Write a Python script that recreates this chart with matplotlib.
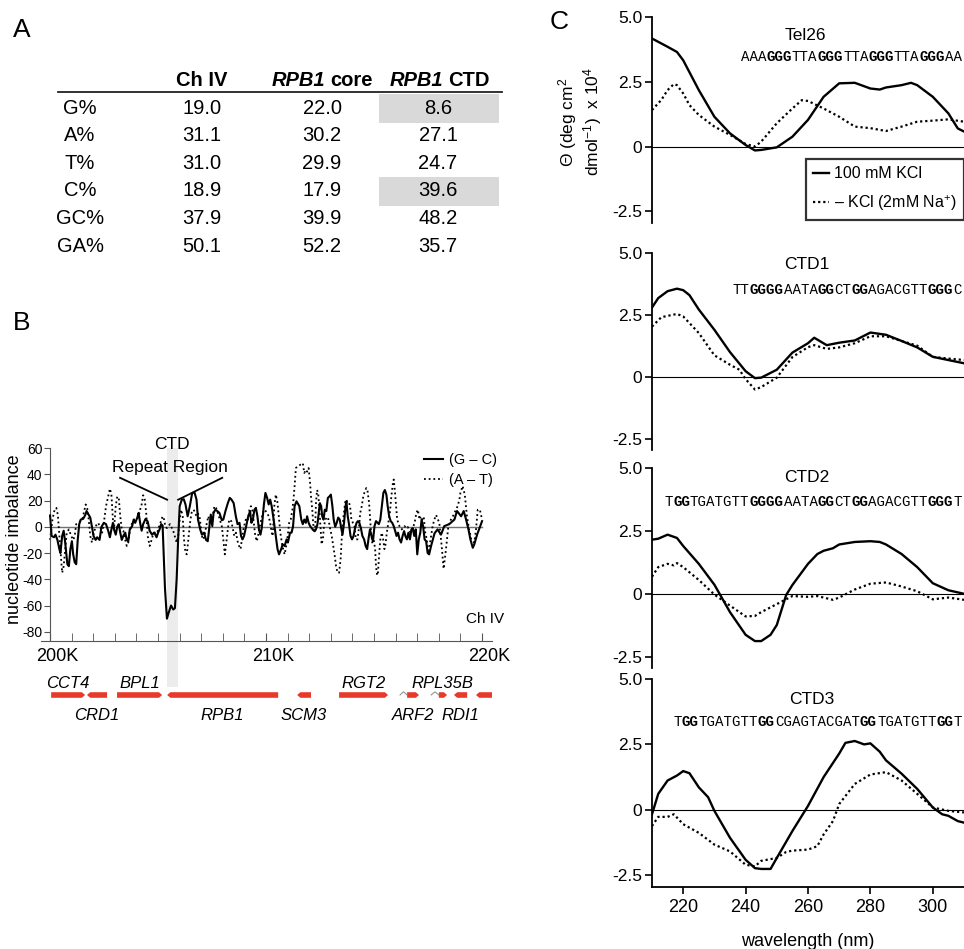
import re

import matplotlib
matplotlib.use("Agg")
import matplotlib.pyplot as plt
from matplotlib.lines import Line2D
from matplotlib.patches import Rectangle
from matplotlib.ticker import MultipleLocator
from matplotlib.transforms import ScaledTranslation

plt.rcParams['font.family'] = ['Liberation Sans', 'DejaVu Sans']
plt.rcParams['axes.unicode_minus'] = False
plt.rcParams['mathtext.fontset'] = 'custom'
plt.rcParams['mathtext.rm'] = 'Liberation Sans'
plt.rcParams['mathtext.it'] = 'Liberation Sans:italic'

# ---------------- panel A: base composition table ----------------
row_labels = ["G%", "A%", "T%", "C%", "GC%", "GA%"]
ch4_pct = [19.0, 31.1, 31.0, 18.9, 37.9, 50.1]
core_pct = [22.0, 30.2, 29.9, 17.9, 39.9, 52.2]
ctd_pct = [8.6, 27.1, 24.7, 39.6, 48.2, 35.7]
highlight_rows = ["G%", "C%"]

# ---------------- panel B: nucleotide imbalance along Ch IV (kb) ----------------
gc_kb = [200.00, 200.07, 200.18, 200.25, 200.34, 200.43, 200.48, 200.56, 200.63, 200.70,
         200.80, 200.87, 200.94, 201.01, 201.07, 201.14, 201.21, 201.28, 201.35, 201.42,
         201.53, 201.63, 201.69, 201.79, 201.86, 201.94, 202.01, 202.11, 202.18, 202.29,
         202.38, 202.49, 202.59, 202.69, 202.77, 202.84, 202.91, 202.96, 203.04, 203.11,
         203.18, 203.25, 203.32, 203.39, 203.48, 203.55, 203.62, 203.69, 203.80, 203.87,
         203.94, 204.04, 204.10, 204.17, 204.24, 204.31, 204.42, 204.52, 204.61, 204.72,
         204.83, 204.93, 205.00, 205.07, 205.14, 205.21, 205.25, 205.32, 205.41, 205.48,
         205.60, 205.70, 205.78, 205.86, 205.93, 206.00, 206.10, 206.19, 206.27, 206.37,
         206.47, 206.58, 206.69, 206.78, 206.85, 206.95, 207.03, 207.13, 207.22, 207.30,
         207.37, 207.44, 207.51, 207.57, 207.65, 207.74, 207.84, 207.95, 208.02, 208.12,
         208.23, 208.32, 208.40, 208.50, 208.60, 208.68, 208.77, 208.84, 208.91, 208.98,
         209.08, 209.16, 209.26, 209.32, 209.39, 209.46, 209.53, 209.60, 209.67, 209.74,
         209.80, 209.90, 209.97, 210.05, 210.12, 210.19, 210.26, 210.35, 210.45, 210.53,
         210.60, 210.70, 210.77, 210.86, 210.95, 211.01, 211.11, 211.18, 211.25, 211.32,
         211.41, 211.54, 211.63, 211.70, 211.77, 211.84, 211.90, 211.97, 212.04, 212.11,
         212.18, 212.25, 212.31, 212.38, 212.45, 212.49, 212.55, 212.60, 212.66, 212.72,
         212.79, 212.86, 212.93, 213.00, 213.07, 213.13, 213.20, 213.27, 213.34, 213.41,
         213.48, 213.54, 213.61, 213.68, 213.72, 213.78, 213.84, 213.91, 213.98, 214.05,
         214.12, 214.19, 214.25, 214.32, 214.39, 214.46, 214.54, 214.61, 214.68, 214.75,
         214.81, 214.88, 214.95, 215.02, 215.09, 215.16, 215.22, 215.29, 215.36, 215.43,
         215.50, 215.57, 215.63, 215.70, 215.77, 215.84, 215.91, 215.98, 216.04, 216.11,
         216.18, 216.25, 216.32, 216.39, 216.45, 216.52, 216.59, 216.66, 216.73, 216.79,
         216.86, 216.93, 217.00, 217.07, 217.14, 217.20, 217.27, 217.34, 217.41, 217.48,
         217.55, 217.64, 217.80, 217.94, 218.10, 218.25, 218.48, 218.72, 218.84, 219.03,
         219.15, 219.26, 219.37, 219.46, 219.57, 219.64, 219.77, 219.88, 220.00]
gc_val = [8.6, -7, -8, -6, -10, -17, -20, -7, -3, -12,
          -28.5, -30, -17, -11, -21, -27, -28.5, -10, 2, 5.5,
          6, 9, 12, 9, 7, 0, -7, -10, -8, -10,
          0, 3, 2, -3, -8, -2, 3, -2, -6, 0,
          2, -4.5, -10, -7, -4.5, -10, -11, -2, 0.5, 5.5,
          3, 7, 10.6, 3, -3, 2, 6, 4, -3, -6,
          -4.5, -8, -4.5, -2, 2, 1, -17, -47, -70, -66,
          -60, -63, -62, -40, -9.6, 15.7, 20.7, 21, 17, 8,
          15.7, 25.8, 26, 20.7, 5.5, -2, -6, -4.5, -10, -11,
          -1, 9.3, 0.5, 10.6, 13, 12, 10.6, 5, 5.5, 12,
          18, 22, 20.7, 18, 8, 2, 3, -7, -9.6, -7,
          0.5, 7, 12, 3, 5.5, 13, 14.4, 8, -2, -6,
          -1, 17, 25.8, 22, 17, 20.7, 15.7, 5.5, -7, -17,
          -21, -17, -13.4, -14.6, -9.6, -12, -4.5, -4.5, 0.5, 15.7,
          19.4, 15.7, 5.5, 2, 5.5, 3, 8, 3, 0.5, -1,
          -2.5, -3.3, -2, 2, 12, 18, 15.7, 8, 5.5, 13,
          12, 22, 23, 24.5, 15.7, 5.5, 0, 3, 7, 5.5,
          -1, -6, 3, 15.7, 19.4, 8, 2, -7, -9.6, -7,
          -1, 3, 4.3, 3, -1, -7, -9.6, -14.6, -17, -8.3,
          -2, -7, -11, 0.5, 4.3, 3, 2, 5.5, 15.7, 25.8,
          28, 24.5, 15.7, 8, 4.3, 3, 0.5, -3.3, -7, -4.5,
          -9.6, -12, -7, -3.3, -7, -9.6, -4.5, -9.6, -2, -1,
          -7, -2, -21, -9.6, -4.5, 5.5, 0.5, -9.6, -11, -20,
          -21, -14.6, -5, -2, -6, 0.5, 2, 5.5, 12, 8,
          12, 5.5, -2, -9.6, -16, -13.4, -6, -1, 4.3]

at_kb = [200.00, 200.11, 200.21, 200.29, 200.36, 200.43, 200.50, 200.56, 200.63, 200.70,
         200.77, 200.87, 200.98, 201.07, 201.14, 201.21, 201.28, 201.39, 201.49, 201.56,
         201.65, 201.72, 201.79, 201.86, 201.94, 202.01, 202.11, 202.22, 202.31, 202.41,
         202.49, 202.59, 202.69, 202.77, 202.84, 202.91, 202.96, 203.04, 203.11, 203.18,
         203.25, 203.32, 203.39, 203.48, 203.55, 203.62, 203.69, 203.80, 203.90, 204.01,
         204.10, 204.17, 204.24, 204.31, 204.38, 204.45, 204.52, 204.61, 204.70, 204.79,
         204.86, 204.93, 205.00, 205.11, 205.21, 205.28, 205.34, 205.41, 205.55, 205.70,
         205.86, 205.93, 206.00, 206.07, 206.14, 206.20, 206.27, 206.33, 206.40, 206.48,
         206.55, 206.65, 206.71, 206.78, 206.85, 206.92, 206.99, 207.06, 207.13, 207.20,
         207.26, 207.33, 207.40, 207.47, 207.54, 207.61, 207.68, 207.74, 207.81, 207.88,
         207.95, 208.02, 208.09, 208.16, 208.23, 208.29, 208.39, 208.47, 208.53, 208.61,
         208.68, 208.75, 208.82, 208.88, 208.95, 209.02, 209.09, 209.16, 209.23, 209.30,
         209.37, 209.43, 209.50, 209.57, 209.64, 209.71, 209.80, 209.90, 209.98, 210.05,
         210.12, 210.19, 210.26, 210.31, 210.38, 210.45, 210.52, 210.59, 210.66, 210.73,
         210.79, 210.86, 210.93, 211.00, 211.07, 211.14, 211.22, 211.27, 211.33, 211.38,
         211.45, 211.56, 211.70, 211.77, 211.84, 211.90, 211.97, 212.04, 212.08, 212.14,
         212.18, 212.22, 212.27, 212.31, 212.36, 212.41, 212.46, 212.52, 212.57, 212.63,
         212.68, 212.75, 212.82, 212.89, 212.96, 213.04, 213.11, 213.17, 213.24, 213.31,
         213.38, 213.45, 213.50, 213.57, 213.64, 213.68, 213.75, 213.82, 213.89, 213.95,
         214.02, 214.09, 214.16, 214.23, 214.30, 214.36, 214.43, 214.50, 214.57, 214.64,
         214.70, 214.77, 214.84, 214.91, 214.98, 215.05, 215.09, 215.14, 215.18, 215.22,
         215.29, 215.36, 215.42, 215.48, 215.52, 215.59, 215.66, 215.73, 215.80, 215.87,
         215.91, 215.96, 216.02, 216.07, 216.14, 216.21, 216.28, 216.34, 216.41, 216.48,
         216.55, 216.62, 216.69, 216.75, 216.82, 216.89, 216.96, 217.03, 217.10, 217.16,
         217.23, 217.30, 217.37, 217.44, 217.51, 217.57, 217.71, 217.79, 217.87, 218.02,
         218.13, 218.22, 218.33, 218.44, 218.56, 218.68, 218.79, 218.87, 218.95, 219.00,
         219.10, 219.20, 219.30, 219.40, 219.50, 219.64, 219.72, 219.80, 219.90, 220.00]
at_val = [-10, 5.5, 13, 14.4, 9, -7, -22, -35, -30, -17,
          -4.5, -2, -7, -10, -7, 2, 3, 4, 5.5, 10.6,
          17, 14, 5.5, -7, -12, -6, 0.5, 3, 0.5, -4.5,
          3, 15.7, 23, 29, 24.5, 5.5, -2, 15.7, 23, 22,
          8, -2, -3, -10, -14.6, -12, -3, 3, 5.5, 5.5,
          8, 13, 17, 24, 21, 10.6, -7, -14.6, -10, -4.5,
          -4.5, -7, -2, 3, 8, 5.5, 0, -1, 2, -3,
          -12, -7, 5.5, 13, 8, -9.6, -20, -21, -9.6, 3,
          10.6, 13, 10.6, 8, 10, 8, -2, -9.6, -8.3, -2,
          3, 8, 2, 5.5, 9.3, 15.7, 14.4, 12, 8, 4.3,
          0.5, -9.6, -21, -12, -2, 5.5, 4.3, -2, -7, -4.5,
          -11, -14.6, -17, -9.6, -2, 3, 7, 5.5, 13, 15.7,
          12, 3, -7, -11, -6, 0.5, 7, 13, 12, 10.6,
          8, 3, -4.5, -7, 15.7, 24.5, 19.4, 8, -4.5, -12,
          -17, -21, -14.6, -7, 3, 5.5, 13, 20.7, 33, 44.7,
          46, 47, 48.5, 41, 43.4, 42, 44.7, 33, 23, 13,
          3, -4.5, -2, 18, 28, 25.8, 15.7, 0.5, -13.4, -9.6,
          0.5, 5.5, 7.5, 5.5, -1, -7, -14.6, -21, -30, -35,
          -35, -25, -9.6, 5.5, 15.7, 20.7, 19.4, 19.4, 15.7, 5.5,
          3, 0.5, -9.6, -9.6, -1, 10.6, 15.7, 23, 27, 29.5,
          27, 18, 0.5, -12, -9.6, -17, -30, -37, -35, -25,
          -9.6, -4.5, -9.6, -17, -14.6, -4.5, 3, 10.6, 23, 33,
          36, 28, 15.7, 5.5, 2, -1, -2, -1, 0.5, -1,
          0, -2, -4.5, -2, 0, 4.3, 10.6, 13, 5.5, 8,
          5.5, 7.5, -4.5, -9.6, -20, -14.6, 0.5, 5.5, 9, 3,
          -14.6, -32, -17, 0.5, 5.5, 9, 13, 15.7, 20.7, 26,
          31, 24.5, 8, -2, -9.6, -12, -2, 13, 13, 5.5]

ctd_region = (205.42, 205.90)

# genes under the plot (kb)
gene_names = ["CCT4", "CRD1", "BPL1", "RPB1", "SCM3", "RGT2", "ARF2", "RPL35B", "RDI1", ""]
gene_start = [200.05, 201.71, 203.10, 205.42, 211.44, 213.38, 216.53, 218.00, 218.70, 219.72]
gene_end = [201.62, 202.64, 205.19, 210.56, 212.08, 215.65, 217.08, 218.38, 219.31, 220.46]
gene_strand = [1, -1, 1, -1, -1, 1, 1, 1, -1, -1]
gene_label_side = [1, -1, 1, -1, -1, 1, -1, 1, -1, 0]
intron_start = [216.20, 217.64]
intron_end = [216.53, 218.00]

# ---------------- panel C: CD spectra (x 10^4) ----------------
cd_names = ["Tel26", "CTD1", "CTD2", "CTD3"]
cd_seqs = ["AAA{GGG}TTA{GGG}TTA{GGG}TTA{GGG}AA",
           "TT{GGGG}AATA{GG}CT{GG}AGACGTT{GGG}C",
           "T{GG}TGATGTT{GGGG}AATA{GG}CT{GG}AGACGTT{GGG}T",
           "T{GG}TGATGTT{GG}CGAGTACGAT{GG}TGATGTT{GG}T"]

tel26_wl_k = [210, 215, 218, 220, 225, 230, 235, 240, 243, 245, 250, 255, 260, 265, 270,
              275, 280, 283, 285, 290, 293, 295, 300, 305, 308, 310]
tel26_k = [4.17, 3.85, 3.65, 3.33, 2.18, 1.15, 0.51, 0.06, -0.15, -0.13, -0.03, 0.38, 1.03,
           1.92, 2.44, 2.46, 2.24, 2.2, 2.28, 2.37, 2.46, 2.37, 1.92, 1.28, 0.7, 0.58]
tel26_wl_na = [210, 213, 215, 217, 218, 220, 222, 225, 230, 235, 240, 243, 245, 250, 255,
               258, 260, 265, 270, 275, 280, 285, 290, 295, 300, 305, 310]
tel26_na = [1.41, 1.8, 2.18, 2.41, 2.37, 2.05, 1.6, 1.22, 0.77, 0.45, 0.1, 0.0, 0.19, 0.9,
            1.47, 1.79, 1.76, 1.47, 1.15, 0.77, 0.71, 0.6, 0.77, 0.96, 1.0, 1.05, 0.96]

ctd1_wl_k = [210, 212, 215, 218, 220, 222, 225, 230, 235, 240, 243, 245, 250, 255, 260,
             262, 266, 270, 275, 280, 285, 290, 295, 300, 305, 310]
ctd1_k = [2.8, 3.18, 3.46, 3.56, 3.5, 3.3, 2.72, 1.9, 1.0, 0.23, -0.05, -0.03, 0.29, 0.98,
          1.36, 1.58, 1.28, 1.38, 1.47, 1.79, 1.7, 1.45, 1.19, 0.81, 0.68, 0.55]
ctd1_wl_na = [210, 213, 218, 220, 225, 230, 235, 238, 240, 243, 245, 250, 255, 260, 262,
              266, 270, 275, 280, 285, 290, 295, 300, 305, 310]
ctd1_na = [2.03, 2.41, 2.54, 2.44, 1.77, 0.87, 0.49, 0.29, -0.09, -0.51, -0.41, -0.03, 0.8,
           1.2, 1.28, 1.13, 1.19, 1.36, 1.64, 1.64, 1.45, 1.26, 0.81, 0.74, 0.68]

ctd2_wl_k = [210, 212, 215, 218, 220, 225, 230, 235, 240, 243, 245, 248, 250, 253, 255,
             260, 263, 265, 268, 270, 275, 280, 283, 285, 290, 295, 300, 305, 310]
ctd2_k = [2.15, 2.19, 2.35, 2.22, 1.9, 1.19, 0.36, -0.73, -1.63, -1.88, -1.88, -1.63,
          -1.24, -0.05, 0.35, 1.19, 1.58, 1.71, 1.81, 1.96, 2.06, 2.09, 2.06, 1.96, 1.58,
          1.06, 0.42, 0.14, 0.0]
ctd2_wl_na = [210, 212, 215, 217, 218, 220, 225, 230, 235, 240, 243, 245, 250, 255, 260,
              263, 265, 268, 270, 275, 280, 285, 290, 295, 300, 305, 310]
ctd2_na = [0.68, 1.06, 1.19, 1.13, 1.22, 1.06, 0.55, -0.03, -0.47, -0.9, -0.88, -0.73,
           -0.41, -0.09, -0.12, -0.09, -0.15, -0.24, -0.15, 0.17, 0.4, 0.45, 0.29, 0.1,
           -0.22, -0.15, -0.24]

ctd3_wl_k = [210, 212, 215, 218, 220, 222, 225, 228, 230, 235, 240, 243, 245, 248, 250,
             255, 260, 265, 270, 272, 275, 278, 280, 283, 285, 290, 295, 300, 303, 305,
             308, 310]
ctd3_k = [-0.17, 0.61, 1.12, 1.31, 1.48, 1.4, 0.86, 0.48, -0.04, -1.07, -1.91, -2.23,
          -2.26, -2.26, -1.84, -0.81, 0.15, 1.25, 2.15, 2.56, 2.63, 2.5, 2.54, 2.22, 1.89,
          1.38, 0.8, 0.09, -0.17, -0.23, -0.43, -0.49]
ctd3_wl_na = [210, 212, 215, 217, 220, 225, 230, 235, 240, 243, 245, 250, 253, 255, 260,
              263, 265, 268, 270, 275, 280, 285, 290, 295, 300, 305, 310]
ctd3_na = [-0.62, -0.27, -0.27, -0.17, -0.55, -0.88, -1.33, -1.59, -2.1, -2.16, -1.95,
           -1.84, -1.61, -1.56, -1.52, -1.39, -0.94, -0.43, 0.22, 0.99, 1.35, 1.44, 1.12,
           0.61, 0.09, -0.04, -0.1]

cd_kcl = [(tel26_wl_k, tel26_k), (ctd1_wl_k, ctd1_k), (ctd2_wl_k, ctd2_k), (ctd3_wl_k, ctd3_k)]
cd_na = [(tel26_wl_na, tel26_na), (ctd1_wl_na, ctd1_na), (ctd2_wl_na, ctd2_na),
         (ctd3_wl_na, ctd3_na)]

# ---------------- figure ----------------
W, H = 964, 949
fig = plt.figure(figsize=(W / 100, H / 100), dpi=100)


def fx(px):
    return px / W


def fy(py):
    return 1 - py / H


def ftext(px, py, s, **kw):
    fig.text(fx(px), fy(py), s, **kw)


# panel letters
ftext(22, 30, "A", fontsize=19, ha="center", va="center")
ftext(22, 323, "B", fontsize=19, ha="center", va="center")
ftext(559, 22, "C", fontsize=19, ha="center", va="center")

# ---- A ----
tfs = 14.5
col_x = [80, 202, 322, 438]
row_y0, row_dy = 108, 27.6
ftext(col_x[1], 80, "Ch IV", fontsize=tfs, weight="bold", ha="center", va="center")
ftext(325, 80, "RPB1", fontsize=tfs, weight="bold", style="italic", ha="right", va="center")
ftext(330.5, 80, "core", fontsize=tfs, weight="bold", ha="left", va="center")
ftext(443, 80, "RPB1", fontsize=tfs, weight="bold", style="italic", ha="right", va="center")
ftext(448.5, 80, "CTD", fontsize=tfs, weight="bold", ha="left", va="center")
fig.add_artist(Line2D([fx(58), fx(502)], [fy(92), fy(92)], color="#222222", lw=1.3))
for i, lab in enumerate(row_labels):
    y = row_y0 + i * row_dy
    if lab in highlight_rows:
        fig.add_artist(Rectangle((fx(379), fy(y + 15)), fx(499) - fx(379), 29 / H,
                                 facecolor="#d9d9d9", edgecolor="none", zorder=0))
    ftext(col_x[0], y, lab, fontsize=tfs, ha="center", va="center")
    ftext(col_x[1], y, f"{ch4_pct[i]:.1f}", fontsize=tfs, ha="center", va="center")
    ftext(col_x[2], y, f"{core_pct[i]:.1f}", fontsize=tfs, ha="center", va="center")
    ftext(col_x[3], y, f"{ctd_pct[i]:.1f}", fontsize=tfs, ha="center", va="center")

# ---- B ----
axb = fig.add_axes([fx(41), fy(641), fx(492) - fx(41), (641 - 448) / H])
axb.set_xlim(199.58, 220.46)
axb.set_ylim(-87, 60)
axb.axvspan(*ctd_region, ymin=-0.24, ymax=1.0, color="#ececec", lw=0, zorder=0,
            clip_on=False)
axb.axhline(0, xmin=(200 - 199.58) / 20.88, xmax=(220 - 199.58) / 20.88, color="#707070",
            lw=1.0, zorder=1)
axb.plot(at_kb, at_val, color="black", lw=1.3, ls=(0, (1, 1.6)), label="(A – T)", zorder=2)
axb.plot(gc_kb, gc_val, color="black", lw=1.5, label="(G – C)", zorder=3)
axb.spines["top"].set_visible(False)
axb.spines["right"].set_visible(False)
axb.spines["left"].set_position(("data", 200))
axb.spines["left"].set_color("#555555")
axb.spines["bottom"].set_color("#555555")
axb.set_yticks(range(-80, 61, 20))
axb.set_xticks([200, 210, 220])
axb.set_xticklabels(["200K", "210K", "220K"])
axb.xaxis.set_minor_locator(MultipleLocator(1))
axb.tick_params(axis="x", which="both", direction="in", length=6, color="#555555",
                labelsize=13, pad=5)
axb.tick_params(axis="y", length=4, color="#555555", labelsize=10, pad=1.5)
shift = ScaledTranslation(0.07, 0, fig.dpi_scale_trans)
for lab in axb.get_xticklabels():
    lab.set_transform(lab.get_transform() + shift)
axb.set_ylabel("nucleotide imbalance", fontsize=13)
axb.yaxis.set_label_coords(-0.041, 0.53)
handles, labels = axb.get_legend_handles_labels()
axb.legend(handles[::-1], labels[::-1], loc="upper right", bbox_to_anchor=(1.04, 1.04),
           frameon=False, fontsize=10.5, handlelength=1.3, handletextpad=0.4,
           labelspacing=0.4)
axb.text(221.0, -70, "Ch IV", fontsize=11, ha="right", va="center", clip_on=False)
axb.text(205.65, 63, "CTD", fontsize=12.5, ha="center", va="center", clip_on=False)
axb.text(205.55, 45, "Repeat Region", fontsize=12.5, ha="center", va="center", clip_on=False)
axb.plot([203.24, ctd_region[0]], [37.3, 20.6], color="black", lw=1.3, clip_on=False)
axb.plot([ctd_region[1] + 0.03, 207.97], [20.6, 37.3], color="black", lw=1.3, clip_on=False)

# gene track
axg = fig.add_axes([fx(41), fy(735), fx(492) - fx(41), 80 / H])
axg.set_xlim(199.58, 220.46)
axg.set_ylim(0, 1)
axg.axis("off")
yb, hh, hl = 0.5, 0.035, 0.15
for name, s, e, st, side in zip(gene_names, gene_start, gene_end, gene_strand,
                                gene_label_side):
    if st > 0:
        xs = [s, e - hl, e, e - hl, s]
    else:
        xs = [e, s + hl, s, s + hl, e]
    ys = [yb - hh, yb - hh, yb, yb + hh, yb + hh]
    axg.fill(xs, ys, color="#e8392b", lw=0)
    if side:
        axg.text((s + e) / 2, yb + (0.14 if side > 0 else -0.25), name, fontsize=12,
                 style="italic", ha="center", va="center")
for s, e in zip(intron_start, intron_end):
    axg.plot([s, (s + e) / 2, e], [yb, yb + 0.04, yb], color="#888888", lw=0.7)

# ---- C ----
ax_tops = [17, 253, 468, 679]
ax_bots = [223, 450, 668, 887]
seq_y = [57, 290, 502, 722]
title_xy = [(805, 35), (807, 265), (807, 478), (812, 700)]
seq_fs = 10.2
char_w = 0.6 * seq_fs * 100 / 72
cd_axes = []
for i in range(4):
    ax = fig.add_axes([fx(652), fy(ax_bots[i]), 1 - fx(652), (ax_bots[i] - ax_tops[i]) / H])
    cd_axes.append(ax)
    ax.set_xlim(210, 310)
    ax.set_ylim(-2.95, 5.0)
    ax.axhline(0, color="black", lw=0.8)
    wl, v = cd_kcl[i]
    ax.plot(wl, v, color="black", lw=1.7, label="100 mM KCl")
    wl, v = cd_na[i]
    ax.plot(wl, v, color="black", lw=1.6, ls=(0, (1, 1.3)), label="– KCl (2mM Na$^{+}$)")
    for sp in ["top", "right"]:
        ax.spines[sp].set_visible(False)
    ax.spines["left"].set_linewidth(1.3)
    ax.spines["left"].set_bounds(-2.95, 5.0)
    ax.set_yticks([-2.5, 0, 2.5, 5.0])
    ax.set_yticklabels(["-2.5", "0", "2.5", "5.0"])
    ax.tick_params(axis="y", length=5, width=1.2, labelsize=12.5, pad=2)
    if i < 3:
        ax.spines["bottom"].set_visible(False)
        ax.set_xticks([])
    else:
        ax.spines["bottom"].set_linewidth(1.3)
        ax.set_xticks([220, 240, 260, 280, 300])
        ax.tick_params(axis="x", length=5, width=1.2, labelsize=13, pad=4)
        ax.set_xlabel("wavelength (nm)", fontsize=13, labelpad=12)
    ftext(title_xy[i][0], title_xy[i][1], cd_names[i], fontsize=12.5, ha="center",
          va="center")
    # sequence with bold G-runs, right aligned at the figure edge
    parts = re.findall(r"\{([A-Z]+)\}|([A-Z]+)", cd_seqs[i])
    n = sum(len(a or b) for a, b in parts)
    x0 = 962 - n * char_w
    for bold_run, plain_run in parts:
        run = bold_run or plain_run
        ftext(x0, seq_y[i], run, fontsize=seq_fs, family="Liberation Mono",
              weight="bold" if bold_run else "normal", ha="left", va="center")
        x0 += len(run) * char_w

leg = cd_axes[0].legend(loc="lower right", bbox_to_anchor=(1.0, 0.015), fontsize=11.5,
                        frameon=True, fancybox=False, edgecolor="black",
                        handlelength=1.0, handletextpad=0.3, labelspacing=0.75,
                        borderpad=0.45, borderaxespad=0)
leg.get_frame().set_linewidth(1.6)

ftext(568, 122, r"$\Theta$ (deg cm$^2$", fontsize=12.5, rotation=90, ha="center",
      va="center")
ftext(593, 122, r"dmol$^{-1}$)  x 10$^4$", fontsize=12.5, rotation=90, ha="center",
      va="center")

fig.savefig("out.png", dpi=100)
